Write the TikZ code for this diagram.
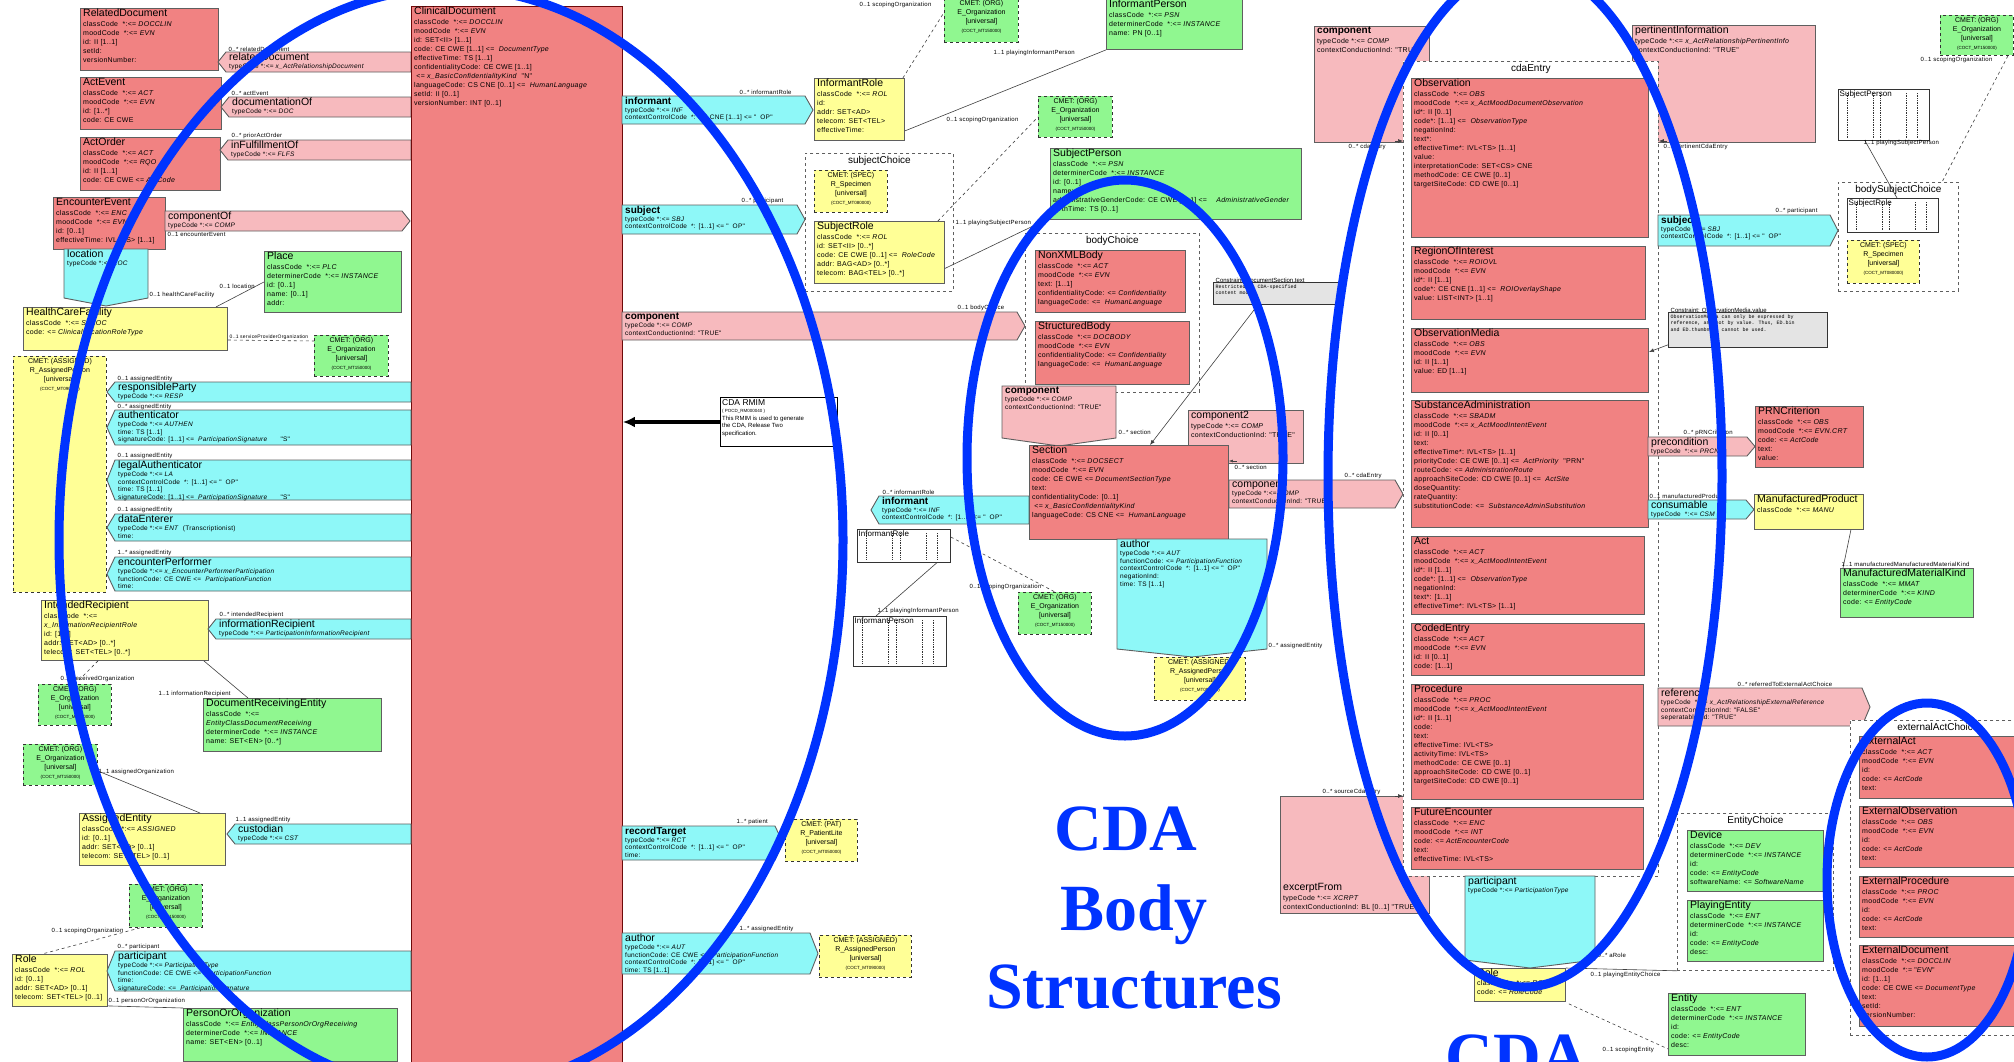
\documentclass[tikz,border=0pt]{standalone}
\usepackage{fontspec}
\setmainfont{Liberation Sans}
\newfontfamily\attrfam[LetterSpace=4]{Liberation Sans}
\newfontfamily\headserif{Liberation Serif}
\newfontfamily\notemono{Liberation Mono}
\usetikzlibrary{calc,arrows.meta}

\definecolor{actred}{RGB}{241,130,130}
\definecolor{relpink}{RGB}{247,186,190}
\definecolor{partcyan}{RGB}{142,248,248}
\definecolor{roleyellow}{RGB}{255,255,150}
\definecolor{entgreen}{RGB}{144,247,144}
\definecolor{hiblue}{RGB}{0,51,255}
\definecolor{notegray}{RGB}{228,228,228}
\definecolor{edgegray}{RGB}{95,95,95}
\definecolor{docred}{RGB}{110,10,10}

\newcommand\boxfont{\attrfam\fontsize{7}{9}\selectfont}
\newcommand\arrfont{\attrfam\fontsize{6.5}{7.7}\selectfont}
\newcommand\lblfont{\attrfam\fontsize{6}{7}\selectfont}
\newcommand\ttl[1]{{\normalfont\fontsize{10.5}{11}\selectfont #1}}
\newcommand\ttlb[1]{{\normalfont\fontsize{10}{11}\selectfont\bfseries #1}}
\newcommand\VV[1]{\textit{#1}}

\tikzset{
  boxline/.style={draw=edgegray, line width=0.9pt},
  actb/.style={boxline, fill=actred},
  relb/.style={boxline, fill=relpink},
  partb/.style={boxline, fill=partcyan},
  roleb/.style={boxline, fill=roleyellow},
  entb/.style={boxline, fill=entgreen},
  choiceb/.style={draw=edgegray, dashed, line width=0.8pt, fill=white},
  cmetb/.style={draw=black!80, dashed, line width=0.9pt},
  noteb/.style={draw=black!80, line width=0.8pt, fill=notegray},
  minib/.style={draw=black!80, line width=0.8pt, fill=white},
  txt/.style={align=left, inner xsep=3pt, inner ysep=1pt, font=\boxfont, anchor=north west},
  atxt/.style={txt, font=\arrfont},
  lbl/.style={font=\lblfont, inner sep=0.5pt},
  cmett/.style={align=center, font=\fontsize{7}{8.8}\selectfont, inner sep=1.5pt},
  conn/.style={draw=black!75, line width=0.6pt},
  dconn/.style={conn, dashed},
  hiring/.style={draw=hiblue, line width=9pt},
  bigword/.style={text=hiblue, font=\headserif\bfseries\fontsize{66}{70}\selectfont, anchor=base, inner sep=0pt},
}

% class box: name, style, x, y, width, height, text
\newcommand\mkbox[7]{%
  \node[#2, inner sep=0pt, anchor=north west, minimum width=#5pt, minimum height=#6pt] (#1) at (#3,#4) {};
  \node[txt] (#1-t) at (#1.north west) {#7};}
% association shapes pointing left / right / down: name, style, x1, y1, x2, y2, text
\newcommand\mkarrL[7]{%
  \draw[#2] ({#3+8},#4) -- (#5,#4) -- (#5,#6) -- ({#3+8},#6) -- (#3,{(#4+#6)/2}) -- cycle;
  \node[atxt] (#1) at ({#3+8},#4) {#7};}
\newcommand\mkarrR[7]{%
  \draw[#2] (#3,#4) -- ({#5-8},#4) -- (#5,{(#4+#6)/2}) -- ({#5-8},#6) -- (#3,#6) -- cycle;
  \node[atxt] (#1) at (#3,#4) {#7};}
\newcommand\mkarrD[7]{%
  \draw[#2] (#3,#4) -- (#5,#4) -- (#5,{#6-8}) -- ({(#3+#5)/2},#6) -- (#3,{#6-8}) -- cycle;
  \node[atxt] (#1) at (#3,#4) {#7};}
% CMET stub: name, fill, x, y, width, height, kind, model, id
\newcommand\mkcmet[9]{%
  \node[cmetb, fill=#2, inner sep=0pt, anchor=north west, minimum width=#5pt, minimum height=#6pt] (#1) at (#3,#4) {};
  \node[cmett, anchor=north] (#1-t) at ($(#1.north)+(0,1)$) {CMET: (#7)\\#8\\{[universal]}\\{\fontsize{4.5}{5}\selectfont (#9)}};}
% collapsed class: name, x, y, width, height, title
\newcommand\mkmini[6]{%
  \node[minib, inner sep=0pt, anchor=north west, minimum width=#4pt, minimum height=#5pt] (#1) at (#2,#3) {};
  \foreach \fx in {0.1,0.38,0.46,0.74,0.86}{%
    \draw[densely dotted, black!80, line width=0.7pt] ($(#1.north west)!\fx!(#1.north east)+(0,4)$) -- ($(#1.south west)!\fx!(#1.south east)+(0,-3)$);}
  \node[font=\fontsize{8}{9}\selectfont, anchor=north west, inner sep=1.5pt] (#1-t) at (#1.north west) {#6};}
% choice box: name, x, y, width, height, title
\newcommand\mkchoice[6]{%
  \node[choiceb, inner sep=0pt, anchor=north west, minimum width=#4pt, minimum height=#5pt] (#1) at (#2,#3) {};
  \node[font=\fontsize{10}{11}\selectfont, anchor=north, inner sep=1pt] (#1-t) at ($(#1.north)+(0,2)$) {#6};}
% constraint note: name, x, y, width, height, heading, body
\newcommand\mknote[7]{%
  \node[noteb, inner sep=0pt, anchor=north west, minimum width=#4pt, minimum height=#5pt] (#1) at (#2,#3) {};
  \node[anchor=south west, inner sep=0.5pt, font=\fontsize{6}{7}\selectfont] (#1-h) at ($(#1.north west)+(2,1)$) {#6};
  \node[anchor=north west, align=left, inner sep=1.5pt, font=\notemono\fontsize{5}{6.5}\selectfont] (#1-t) at ($(#1.north west)+(1,1)$) {#7};}

\begin{document}
\begin{tikzpicture}[x=1pt, y=-1pt]
\path[use as bounding box] (0,0) rectangle (2014,1061);
\clip (0,0) rectangle (2014,1061);
\fill[white] (0,0) rectangle (2014,1061);

% ---------------- document header side ----------------
\mkbox{reldoc}{actb}{80}{8}{138}{62}{\ttl{RelatedDocument}\\[1pt] classCode~ *:<= \VV{DOCCLIN}\\ moodCode~ *:<= \VV{EVN}\\ id: II [1..1]\\ setId:\\ versionNumber:}
\mkarrL{reldocA}{relb}{218}{52}{411}{72}{\ttl{relatedDocument}\\ typeCode *:<= \VV{x\_ActRelationshipDocument}}
\node[lbl, anchor=south west] (lbA) at (228,52) {0..* relatedDocument};

\mkbox{actevent}{actb}{80}{77}{141}{52}{\ttl{ActEvent}\\[1pt] classCode~ *:<= \VV{ACT}\\ moodCode~ *:<= \VV{EVN}\\ id: [1..*]\\ code: CE CWE}
\mkarrL{docof}{relb}{221}{97}{411}{117}{\ttl{documentationOf}\\ typeCode *:<= \VV{DOC}}
\node[lbl, anchor=south west] (lbB) at (231,96) {0..* actEvent};

\mkbox{actorder}{actb}{80}{137}{140}{53}{\ttl{ActOrder}\\[1pt] classCode~ *:<= \VV{ACT}\\ moodCode~ *:<= \VV{RQO}\\ id: II [1..1]\\ code: CE CWE <= \VV{ActCode}}
\mkarrL{inful}{relb}{220}{140}{411}{160}{\ttl{inFulfillmentOf}\\ typeCode *:<= \VV{FLFS}}
\node[lbl, anchor=south west] (lbC) at (231,139) {0..* priorActOrder};

\mkbox{encev}{actb}{53}{197}{112}{52}{\ttl{EncounterEvent}\\[1pt] classCode~ *:<= \VV{ENC}\\ moodCode~ *:<= \VV{EVN}\\ id: [0..1]\\ effectiveTime: IVL<TS> [1..1]}
\mkarrR{compof}{relb}{165}{211}{410}{231}{\ttl{componentOf}\\ typeCode *:<= \VV{COMP}}
\node[lbl, anchor=north west] (lbD) at (167,232) {0..1 encounterEvent};

\mkarrD{loc}{partb}{64}{249}{148}{306}{\ttl{location}\\ typeCode *:<= \VV{LOC}}
\node[lbl, anchor=west] (lbE) at (149,295) {0..1 healthCareFacility};

\mkbox{place}{entb}{264}{251}{137}{61}{\ttl{Place}\\[1pt] classCode~ *:<= \VV{PLC}\\ determinerCode~ *:<= \VV{INSTANCE}\\ id: [0..1]\\ name: [0..1]\\ addr:}
\mkbox{hcf}{roleb}{23}{307}{204}{43}{\ttl{HealthCareFacility}\\[1pt] classCode~ *:<= \VV{SDLOC}\\ code: <= \VV{ClinicalLocationRoleType}}
\draw[conn] ($(hcf.north east)+(-12,0)$) -- (place.west);
\node[lbl, anchor=west] (lbF) at (219,286) {0..1 location};

\mkcmet{cmA}{entgreen}{314}{335}{74}{41}{ORG}{E\_Organization}{COCT\_MT150000}
\draw[dconn] ($(hcf.north east)+(0,33)$) -- ($(cmA.north west)+(0,6)$);
\node[lbl, anchor=south west, font=\attrfam\fontsize{5}{6}\selectfont] (lbG) at (229,340) {0..1 serviceProviderOrganization};

\mkbox{clindoc}{actb, draw=docred}{411}{6}{211}{1062}{\ttl{ClinicalDocument}\\[1pt]
classCode~ *:<= \VV{DOCCLIN}\\
moodCode~ *:<= \VV{EVN}\\
id: SET<II> [1..1]\\
code: CE CWE [1..1] <= ~\VV{DocumentType}\\
effectiveTime: TS [1..1]\\
confidentialityCode: CE CWE [1..1]\\
~<= \VV{x\_BasicConfidentialityKind} ~"N"\\
languageCode: CS CNE [0..1] <= ~\VV{HumanLanguage}\\
setId: II [0..1]\\
versionNumber: INT [0..1]}

\mkcmet{cmAsg}{roleyellow}{13}{356}{93}{236}{ASSIGNED}{R\_AssignedPerson}{COCT\_MT090000}

\mkarrL{respp}{partb}{107}{382}{411}{402}{\ttl{responsibleParty}\\ typeCode *:<= \VV{RESP}}
\node[lbl, anchor=south west] (lbH) at (117,382) {0..1 assignedEntity};
\mkarrL{authen}{partb}{107}{410}{411}{445}{\ttl{authenticator}\\ typeCode *:<= \VV{AUTHEN}\\ time: TS [1..1]\\ signatureCode: [1..1] <= ~\VV{ParticipationSignature}\qquad "S"}
\node[lbl, anchor=south west] (lbI) at (117,410) {0..* assignedEntity};
\mkarrL{legauth}{partb}{107}{460}{411}{500}{\ttl{legalAuthenticator}\\ typeCode *:<= \VV{LA}\\ contextControlCode~ *: [1..1] <= " ~OP"\\ time: TS [1..1]\\ signatureCode: [1..1] <= ~\VV{ParticipationSignature}\qquad "S"}
\node[lbl, anchor=south west] (lbJ) at (117,459) {0..1 assignedEntity};
\mkarrL{dataent}{partb}{107}{514}{411}{541}{\ttl{dataEnterer}\\ typeCode *:<= \VV{ENT} ~(Transcriptionist)\\ time:}
\node[lbl, anchor=south west] (lbK) at (117,513) {0..1 assignedEntity};
\mkarrL{encperf}{partb}{107}{557}{411}{591}{\ttl{encounterPerformer}\\ typeCode *:<= \VV{x\_EncounterPerformerParticipation}\\ functionCode: CE CWE <= ~\VV{ParticipationFunction}\\ time:}
\node[lbl, anchor=south west] (lbL) at (117,556) {1..* assignedEntity};

\mkbox{intrec}{roleb}{41}{600}{167}{60}{\ttl{IntendedRecipient}\\[1pt] classCode~ *:<=\\ \VV{x\_InformationRecipientRole}\\ id: [1..*]\\ addr: SET<AD> [0..*]\\ telecom: SET<TEL> [0..*]}
\mkarrL{inforec}{partb}{208}{619}{411}{639}{\ttl{informationRecipient}\\ typeCode *:<= \VV{ParticipationInformationRecipient}}
\node[lbl, anchor=south west] (lbM) at (219,618) {0..* intendedRecipient};

\mkcmet{cmB}{entgreen}{38}{684}{73}{41}{ORG}{E\_Organization}{COCT\_MT150000}
\draw[dconn] ($(intrec.south west)+(57,0)$) -- (cmB.north);
\node[lbl, anchor=west] (lbN) at (60,679) {0..1 receivedOrganization};

\mkbox{docrecv}{entb}{203}{698}{178}{53}{\ttl{DocumentReceivingEntity}\\[1pt] classCode~ *:<=\\ \VV{EntityClassDocumentReceiving}\\ determinerCode~ *:<= \VV{INSTANCE}\\ name: SET<EN> [0..*]}
\draw[conn] ($(intrec.south east)+(-5,0)$) -- ($(docrecv.north west)+(45,0)$);
\node[lbl, anchor=west] (lbO) at (158,694) {1..1 informationRecipient};

\mkcmet{cmC}{entgreen}{23}{744}{74}{41}{ORG}{E\_Organization}{COCT\_MT150000}
\mkbox{assigned}{roleb}{79}{813}{146}{52}{\ttl{AssignedEntity}\\[1pt] classCode~ *:<= \VV{ASSIGNED}\\ id: [0..1]\\ addr: SET<AD> [0..1]\\ telecom: SET<TEL> [0..1]}
\draw[conn] ($(cmC.east)+(0,6)$) -- ($(assigned.north west)+(121,0)$);
\node[lbl, anchor=west] (lbP) at (98,772) {1..1 assignedOrganization};
\mkarrL{custod}{partb}{227}{824}{411}{844}{\ttl{custodian}\\ typeCode *:<= \VV{CST}}
\node[lbl, anchor=south west] (lbQ) at (235,823) {1..1 assignedEntity};

\mkcmet{cmD}{entgreen}{129}{884}{73}{43}{ORG}{E\_Organization}{COCT\_MT150000}
\mkbox{roleL}{roleb}{12}{954}{95}{52}{\ttl{Role}\\[1pt] classCode~ *:<= \VV{ROL}\\ id: [0..1]\\ addr: SET<AD> [0..1]\\ telecom: SET<TEL> [0..1]}
\draw[dconn] ($(cmD.south west)+(11,0)$) -- ($(roleL.north west)+(30,0)$);
\node[lbl, anchor=west] (lbR) at (51,931) {0..1 scopingOrganization};
\mkarrL{partL}{partb}{107}{951}{411}{991}{\ttl{participant}\\ typeCode *:<= \VV{ParticipationType}\\ functionCode: CE CWE <= ~\VV{ParticipationFunction}\\ time:\\ signatureCode: <= ~\VV{ParticipationSignature}}
\node[lbl, anchor=south west] (lbS) at (117,950) {0..* participant};
\mkbox{poo}{entb}{183}{1008}{214}{53}{\ttl{PersonOrOrganization}\\[1pt] classCode~ *:<= \VV{EntityClassPersonOrOrgReceiving}\\ determinerCode~ *:<= \VV{INSTANCE}\\ name: SET<EN> [0..1]}
\draw[conn] ($(roleL.south east)+(0,-1)$) -- (poo.north west);
\node[lbl, anchor=south west] (lbT) at (108,1004) {0..1 personOrOrganization};

% ---------------- RMIM note ----------------
\node[draw=black, line width=0.9pt, fill=white, minimum width=117pt, minimum height=49pt, anchor=north west, inner sep=0pt] (rmim) at (720,397) {};
\node[anchor=north west, align=left, inner sep=2pt, font=\fontsize{6}{7.5}\selectfont] (rmim-t) at (rmim.north west) {{\fontsize{8.5}{9}\selectfont CDA RMIM}\\ {\fontsize{4.5}{5}\selectfont ( POCD\_RM000040 )}\\ This RMIM is used to generate\\ the CDA, Release Two\\ specification.};
\draw[line width=3.5pt, -{Latex[length=12pt,width=11pt]}] ($(rmim.north west)+(0,25)$) -- ($(clindoc.north east)+(0,416)$);

% ---------------- header participations ----------------
\mkarrR{inf}{partb}{622}{96}{813}{124}{\ttlb{informant}\\ typeCode *:<= \VV{INF}\\ contextControlCode~ *: CS CNE [1..1] <= " ~OP"}
\node[lbl, anchor=south west] (lbU) at (739,95) {0..* informantRole};
\mkbox{irole}{roleb}{814}{78}{90}{62}{\ttl{InformantRole}\\[1pt] classCode~ *:<= \VV{ROL}\\ id:\\ addr: SET<AD>\\ telecom: SET<TEL>\\ effectiveTime:}
\mkcmet{cmE}{entgreen}{944}{-2}{74}{44}{ORG}{E\_Organization}{COCT\_MT150000}
\draw[dconn] ($(irole.north east)+(-2,0)$) -- ($(cmE.west)+(0,-8)$);
\node[lbl, anchor=west] (lbV) at (859,5) {0..1 scopingOrganization};
\mkbox{iperson}{entb}{1106}{-1}{136}{50}{\ttl{InformantPerson}\\[1pt] classCode~ *:<= \VV{PSN}\\ determinerCode~ *:<= \VV{INSTANCE}\\ name: PN [0..1]}
\draw[conn] ($(irole.south east)+(0,-10)$) -- (iperson.south west);
\node[lbl, anchor=west] (lbW) at (993,53) {1..1 playingInformantPerson};

\mkchoice{subjch}{805}{153}{148}{138}{subjectChoice}
\mkcmet{cmSpecA}{roleyellow}{814}{170}{73}{42}{SPEC}{R\_Specimen}{COCT\_MT080000}
\mkbox{subjrole}{roleb}{814}{221}{130}{62}{\ttl{SubjectRole}\\[1pt] classCode~ *:<= \VV{ROL}\\ id: SET<II> [0..*]\\ code: CE CWE [0..1] <= ~\VV{RoleCode}\\ addr: BAG<AD> [0..*]\\ telecom: BAG<TEL> [0..*]}
\mkarrR{subj}{partb}{622}{205}{805}{234}{\ttlb{subject}\\ typeCode *:<= \VV{SBJ}\\ contextControlCode~ *: [1..1] <= " ~OP"}
\node[lbl, anchor=south west] (lbX) at (741,204) {0..* participant};
\mkcmet{cmF}{entgreen}{1038}{96}{74}{41}{ORG}{E\_Organization}{COCT\_MT150000}
\draw[dconn] ($(subjrole.north east)+(-7,0)$) -- (cmF.west);
\node[lbl, anchor=west] (lbY) at (946,120) {0..1 scopingOrganization};
\mkbox{sperson}{entb}{1050}{148}{251}{71}{\ttl{SubjectPerson}\\[1pt] classCode~ *:<= \VV{PSN}\\ determinerCode~ *:<= \VV{INSTANCE}\\ id: [0..1]\\ name:\\ administrativeGenderCode: CE CWE [0..1] <= \quad\VV{AdministrativeGender}\\ birthTime: TS [0..1]}
\draw[conn] ($(subjrole.east)+(0,16)$) -- ($(sperson.south west)+(0,-2)$);
\node[lbl, anchor=west] (lbZ) at (955,223) {1..1 playingSubjectPerson};

\mkarrR{comp}{relb}{622}{312}{1025}{340}{\ttlb{component}\\ typeCode *:<= \VV{COMP}\\ contextConductionInd: "TRUE"}
\node[lbl, anchor=south west] (lbAA) at (957,311) {0..1 bodyChoice};

\mkarrR{rectgt}{partb}{622}{826}{783}{860}{\ttlb{recordTarget}\\ typeCode *:<= \VV{RCT}\\ contextControlCode~ *: [1..1] <= " ~OP"\\ time:}
\node[lbl, anchor=south west] (lbAB) at (736,825) {1..* patient};
\mkcmet{cmPat}{roleyellow}{785}{819}{72}{42}{PAT}{R\_PatientLite}{COCT\_MT050000}
\mkarrR{authL}{partb}{622}{933}{818}{974}{\ttl{author}\\ typeCode *:<= \VV{AUT}\\ functionCode: CE CWE <= ~\VV{ParticipationFunction}\\ contextControlCode~ *: [1..1] <= " ~OP"\\ time: TS [1..1]}
\node[lbl, anchor=south west] (lbAC) at (739,932) {1..* assignedEntity};
\mkcmet{cmAsgB}{roleyellow}{819}{935}{92}{42}{ASSIGNED}{R\_AssignedPerson}{COCT\_MT090000}

% ---------------- body structures ----------------
\mkchoice{bodych}{1025}{233}{174}{159}{bodyChoice}
\mkbox{nonxml}{actb}{1035}{250}{150}{62}{\ttl{NonXMLBody}\\[1pt] classCode~ *:<= \VV{ACT}\\ moodCode~ *:<= \VV{EVN}\\ text: [1..1]\\ confidentialityCode: <= \VV{Confidentiality}\\ languageCode: <= ~\VV{HumanLanguage}}
\mkbox{strbody}{actb}{1035}{321}{154}{63}{\ttl{StructuredBody}\\[1pt] classCode~ *:<= \VV{DOCBODY}\\ moodCode~ *:<= \VV{EVN}\\ confidentialityCode: <= \VV{Confidentiality}\\ languageCode: <= ~\VV{HumanLanguage}}
\mknote{noteA}{1213}{282}{129}{22}{Constraint: documentSection.text}{Restricted to CDA-specified\\content model.}

\mkarrD{compS}{relb}{1002}{386}{1116}{446}{\ttlb{component}\\ typeCode *:<= \VV{COMP}\\ contextConductionInd: "TRUE"}
\node[lbl, anchor=west] (lbAD) at (1118,432) {0..* section};
\mkbox{comp2}{relb}{1188}{410}{115}{53}{\ttl{component2}\\[1pt] typeCode *:<= \VV{COMP}\\ contextConductionInd: "TRUE"}
\node[lbl, anchor=west] (lbAE) at (1234,467) {0..* section};
\mkarrL{infM}{partb}{871}{496}{1029}{524}{\ttlb{informant}\\ typeCode *:<= \VV{INF}\\ contextControlCode~ *: [1..1] <= " ~OP"}
\node[lbl, anchor=south west] (lbAF) at (882,495) {0..* informantRole};
\mkbox{section}{actb}{1029}{445}{199}{94}{\ttl{Section}\\[1pt] classCode~ *:<= \VV{DOCSECT}\\ moodCode~ *:<= \VV{EVN}\\ code: CE CWE <= \VV{DocumentSectionType}\\ text:\\ confidentialityCode: [0..1]\\ ~<= \VV{x\_BasicConfidentialityKind}\\ languageCode: CS CNE <= ~\VV{HumanLanguage}}
\draw[conn, -{Latex[length=5pt,width=4pt]}] ($(noteA.south west)+(45,0)$) -- ($(section.north west)+(121,0)$);
\draw[conn, -{Latex[length=4pt,width=3pt]}] ($(section.north east)+(8,16)$) -- ($(section.north east)+(0,16)$);

\mkarrR{compE}{relb}{1229}{480}{1403}{508}{\ttl{component}\\ typeCode *:<= \VV{COMP}\\ contextConductionInd: "TRUE"}
\node[lbl, anchor=south west] (lbAG) at (1344,479) {0..* cdaEntry};

\mkarrD{authM}{partb}{1117}{539}{1267}{657}{\ttl{author}\\ typeCode *:<= \VV{AUT}\\ functionCode: <= \VV{ParticipationFunction}\\ contextControlCode~ *: [1..1] <= " ~OP"\\ negationInd:\\ time: TS [1..1]}
\node[lbl, anchor=west] (lbAH) at (1268,646) {0..* assignedEntity};
\mkcmet{cmAsgC}{roleyellow}{1154}{657}{91}{43}{ASSIGNED}{R\_AssignedPerson}{COCT\_MT090000}

\mkmini{irolem}{857}{529}{93}{33}{InformantRole}
\mkmini{ipm}{853}{616}{93}{50}{InformantPerson}
\draw[conn] ($(irolem.south east)+(-14,0)$) -- ($(ipm.north west)+(23,0)$);
\node[lbl, anchor=south west] (lbAI) at (877,614) {1..1 playingInformantPerson};
\mkcmet{cmG}{entgreen}{1018}{592}{73}{42}{ORG}{E\_Organization}{COCT\_MT150000}
\draw[dconn] ($(irolem.north east)+(0,8)$) -- ($(cmG.north west)+(37,0)$);
\node[lbl, anchor=west] (lbAJ) at (969,587) {0..1 scopingOrganization};

% ---------------- entry level ----------------
\mkbox{compT}{relb}{1314}{26}{115}{116}{\ttlb{component}\\[1pt] typeCode *:<= \VV{COMP}\\ contextConductionInd: "TRUE"}
\node[lbl, anchor=north west] (lbAK) at (1348,143) {0..* cdaEntry};
\mkbox{pertinfo}{relb}{1632}{25}{183}{117}{\ttl{pertinentInformation}\\[1pt] typeCode *:<= \VV{x\_ActRelationshipPertinentInfo}\\ contextConductionInd: "TRUE"}
\node[lbl, anchor=north west] (lbAL) at (1663,143) {0..* pertinentCdaEntry};
\node[relb, inner sep=0pt, anchor=north west, minimum width=149pt, minimum height=117pt] (excerpt) at (1280,796) {};
\node[txt, anchor=south west] (excerpt-t) at ($(excerpt.south west)+(0,-2)$) {\ttl{excerptFrom}\\[1pt] typeCode *:<= \VV{XCRPT}\\ contextConductionInd: BL [0..1] "TRUE"};
\node[lbl, anchor=south west] (lbAM) at (1322,795) {0..* sourceCdaEntry};

\mkchoice{cdaentry}{1403}{61}{255}{815}{cdaEntry}
\mkbox{obs}{actb}{1411}{78}{237}{159}{\ttl{Observation}\\[1pt] classCode~ *:<= \VV{OBS}\\ moodCode~ *:<= \VV{x\_ActMoodDocumentObservation}\\ id*: II [0..1]\\ code*: [1..1] <= ~\VV{ObservationType}\\ negationInd:\\ text*:\\ effectiveTime*: IVL<TS> [1..1]\\ value:\\ interpretationCode: SET<CS> CNE\\ methodCode: CE CWE [0..1]\\ targetSiteCode: CD CWE [0..1]}
\mkbox{roi}{actb}{1411}{246}{234}{73}{\ttl{RegionOfInterest}\\[1pt] classCode~ *:<= \VV{ROIOVL}\\ moodCode~ *:<= \VV{EVN}\\ id*: II [1..1]\\ code*: CE CNE [1..1] <= ~\VV{ROIOverlayShape}\\ value: LIST<INT> [1..1]}
\mkbox{obsmedia}{actb}{1411}{328}{237}{64}{\ttl{ObservationMedia}\\[1pt] classCode~ *:<= \VV{OBS}\\ moodCode~ *:<= \VV{EVN}\\ id: II [1..1]\\ value: ED [1..1]}
\mkbox{sbadm}{actb}{1411}{400}{237}{127}{\ttl{SubstanceAdministration}\\[1pt] classCode~ *:<= \VV{SBADM}\\ moodCode~ *:<= \VV{x\_ActMoodIntentEvent}\\ id: II [0..1]\\ text:\\ effectiveTime*: IVL<TS> [1..1]\\ priorityCode: CE CWE [0..1] <= ~\VV{ActPriority} ~"PRN"\\ routeCode: <= \VV{AdministrationRoute}\\ approachSiteCode: CD CWE [0..1] <= ~\VV{ActSite}\\ doseQuantity:\\ rateQuantity:\\ substitutionCode: <= ~\VV{SubstanceAdminSubstitution}}
\mkbox{act}{actb}{1411}{536}{233}{78}{\ttl{Act}\\[1pt] classCode~ *:<= \VV{ACT}\\ moodCode~ *:<= \VV{x\_ActMoodIntentEvent}\\ id*: II [1..1]\\ code*: [1..1] <= ~\VV{ObservationType}\\ negationInd:\\ text*: [1..1]\\ effectiveTime*: IVL<TS> [1..1]}
\mkbox{coded}{actb}{1411}{623}{233}{52}{\ttl{CodedEntry}\\[1pt] classCode~ *:<= \VV{ACT}\\ moodCode~ *:<= \VV{EVN}\\ id: II [0..1]\\ code: [1..1]}
\mkbox{proc}{actb}{1411}{684}{232}{115}{\ttl{Procedure}\\[1pt] classCode~ *:<= \VV{PROC}\\ moodCode~ *:<= \VV{x\_ActMoodIntentEvent}\\ id*: II [1..1]\\ code:\\ text:\\ effectiveTime: IVL<TS>\\ activityTime: IVL<TS>\\ methodCode: CE CWE [0..1]\\ approachSiteCode: CD CWE [0..1]\\ targetSiteCode: CD CWE [0..1]}
\mkbox{futenc}{actb}{1411}{807}{232}{62}{\ttl{FutureEncounter}\\[1pt] classCode~ *:<= \VV{ENC}\\ moodCode~ *:<= \VV{INT}\\ code: <= \VV{ActEncounterCode}\\ text:\\ effectiveTime: IVL<TS>}

\draw[conn, -{Latex[length=5pt,width=4pt]}] ($(cdaentry.north west)+(-8,80)$) -- ($(cdaentry.north west)+(0,80)$);
\draw[conn, -{Latex[length=5pt,width=4pt]}] ($(cdaentry.north east)+(8,80)$) -- ($(cdaentry.north east)+(0,80)$);
\draw[conn, -{Latex[length=5pt,width=4pt]}] ($(cdaentry.north west)+(-8,735)$) -- ($(cdaentry.north west)+(0,735)$);

\mkarrD{partE}{partb}{1465}{876}{1595}{968}{\ttl{participant}\\ typeCode *:<= \VV{ParticipationType}}
\mkbox{roleR}{roleb}{1474}{968}{91}{33}{\ttl{Role}\\ classCode~ *:<= \VV{ROL}\\ code: <= \VV{RoleCode}}
\node[lbl, anchor=west] (lbAN) at (1597,955) {0..* aRole};

\mkchoice{entch}{1677}{813}{156}{157}{EntityChoice}
\mkbox{device}{entb}{1687}{830}{136}{61}{\ttl{Device}\\[1pt] classCode~ *:<= \VV{DEV}\\ determinerCode~ *:<= \VV{INSTANCE}\\ id:\\ code: <= \VV{EntityCode}\\ softwareName: <= \VV{SoftwareName}}
\mkbox{playent}{entb}{1687}{900}{136}{61}{\ttl{PlayingEntity}\\[1pt] classCode~ *:<= \VV{ENT}\\ determinerCode~ *:<= \VV{INSTANCE}\\ id:\\ code: <= \VV{EntityCode}\\ desc:}
\mkbox{entity}{entb}{1668}{993}{137}{62}{\ttl{Entity}\\[1pt] classCode~ *:<= \VV{ENT}\\ determinerCode~ *:<= \VV{INSTANCE}\\ id:\\ code: <= \VV{EntityCode}\\ desc:}
\draw[conn] (roleR.north east) -- (entch.south west);
\node[lbl, anchor=north west] (lbAO) at (1590,971) {0..1 playingEntityChoice};
\draw[dconn] ($(roleR.south east)+(3,2)$) -- ($(entity.south west)+(0,-7)$);
\node[lbl, anchor=west] (lbAP) at (1602,1050) {0..1 scopingEntity};

% ---------------- right margin ----------------
\mkcmet{cmH}{entgreen}{1940}{15}{73}{40}{ORG}{E\_Organization}{COCT\_MT150000}
\node[lbl, anchor=west] (lbAQ) at (1920,60) {0..1 scopingOrganization};
\mkmini{spm}{1838}{89}{91}{51}{SubjectPerson}
\mkchoice{bsc}{1838}{182}{120}{109}{bodySubjectChoice}
\mkmini{srm}{1847}{198}{91}{34}{SubjectRole}
\mkcmet{cmSpecB}{roleyellow}{1847}{240}{72}{43}{SPEC}{R\_Specimen}{COCT\_MT080000}
\draw[conn] ($(spm.south west)+(27,0)$) -- ($(srm.north west)+(50,0)$);
\node[lbl, anchor=west] (lbAR) at (1863,143) {1..1 playingSubjectPerson};
\draw[dconn] ($(cmH.south east)+(-6,0)$) -- ($(bsc.north west)+(104,0)$);
\mkarrR{subjR}{partb}{1658}{215}{1838}{246}{\ttlb{subject}\\ typeCode *:<= \VV{SBJ}\\ contextControlCode~ *: [1..1] <= " ~OP"}
\node[lbl, anchor=south west] (lbAS) at (1775,214) {0..* participant};

\mknote{noteB}{1668}{312}{159}{35}{Constraint: ObservationMedia.value}{ObservationMedia can only be expressed by\\reference, and not by value. Thus, ED.bin\\and ED.thumbnail cannot be used.}
\draw[conn, -{Latex[length=5pt,width=4pt]}] ($(noteB.south west)+(0,-3)$) -- ($(obsmedia.north east)+(0,24)$);

\mkarrR{precond}{relb}{1648}{437}{1755}{456}{\ttl{precondition}\\ typeCode~ *:<= \VV{PRCN}}
\node[lbl, anchor=south west] (lbAT) at (1683,436) {0..* pRNCriterion};
\mkbox{prn}{actb}{1755}{406}{108}{61}{\ttl{PRNCriterion}\\[1pt] classCode~ *:<= \VV{OBS}\\ moodCode~ *:<= \VV{EVN.CRT}\\ code: <= \VV{ActCode}\\ text:\\ value:}
\mkarrR{consum}{partb}{1648}{500}{1754}{519}{\ttl{consumable}\\ typeCode~ *:<= \VV{CSM}}
\node[lbl, anchor=south west] (lbAU) at (1649,499) {0..1 manufacturedProduct};
\mkbox{mprod}{roleb}{1754}{494}{109}{35}{\ttl{ManufacturedProduct}\\[1pt] classCode~ *:<= \VV{MANU}}
\mkbox{mmk}{entb}{1840}{568}{133}{49}{\ttl{ManufacturedMaterialKind}\\[1pt] classCode~ *:<= \VV{MMAT}\\ determinerCode~ *:<= \VV{KIND}\\ code: <= \VV{EntityCode}}
\draw[conn] ($(mprod.south east)+(-13,0)$) -- ($(mmk.north west)+(3,0)$);
\node[lbl, anchor=south west] (lbAV) at (1841,567) {1..1 manufacturedManufacturedMaterialKind};

\mkarrR{refer}{relb}{1658}{688}{1870}{726}{\ttl{reference}\\ typeCode~ *:<= \VV{x\_ActRelationshipExternalReference}\\ contextConductionInd: "FALSE"\\ seperatableInd: "TRUE"}
\node[lbl, anchor=south west] (lbAW) at (1737,687) {0..* referredToExternalActChoice};

\mkchoice{extch}{1850}{720}{175}{315}{externalActChoice}
\mkbox{extact}{actb}{1859}{736}{165}{62}{\ttl{ExternalAct}\\[1pt] classCode~ *:<= \VV{ACT}\\ moodCode~ *:<= \VV{EVN}\\ id:\\ code: <= \VV{ActCode}\\ text:}
\mkbox{extobs}{actb}{1859}{806}{165}{61}{\ttl{ExternalObservation}\\[1pt] classCode~ *:<= \VV{OBS}\\ moodCode~ *:<= \VV{EVN}\\ id:\\ code: <= \VV{ActCode}\\ text:}
\mkbox{extproc}{actb}{1859}{876}{165}{61}{\ttl{ExternalProcedure}\\[1pt] classCode~ *:<= \VV{PROC}\\ moodCode~ *:<= \VV{EVN}\\ id:\\ code: <= \VV{ActCode}\\ text:}
\mkbox{extdoc}{actb}{1859}{945}{165}{81}{\ttl{ExternalDocument}\\[1pt] classCode~ *:<= \VV{DOCCLIN}\\ moodCode~ *:= "\VV{EVN}"\\ id: [1..1]\\ code: CE CWE <= \VV{DocumentType}\\ text:\\ setId:\\ versionNumber:}

% ---------------- highlight rings and headings ----------------
\draw[hiring] (451,540) ellipse [x radius=392pt, y radius=552pt];
\draw[hiring] (1125,458) ellipse [x radius=158pt, y radius=278pt];
\draw[hiring] (1525,476) ellipse [x radius=197pt, y radius=511pt];
\draw[hiring] (1927,880) ellipse [x radius=100pt, y radius=177pt];

\node[bigword] (hdA) at (1126,850) {CDA};
\node[bigword] (hdB) at (1134,930) {Body};
\node[bigword] (hdC) at (1134,1008) {Structures};
\node[bigword] (hdD) at (1517,1078) {CDA};
\end{tikzpicture}
\end{document}
